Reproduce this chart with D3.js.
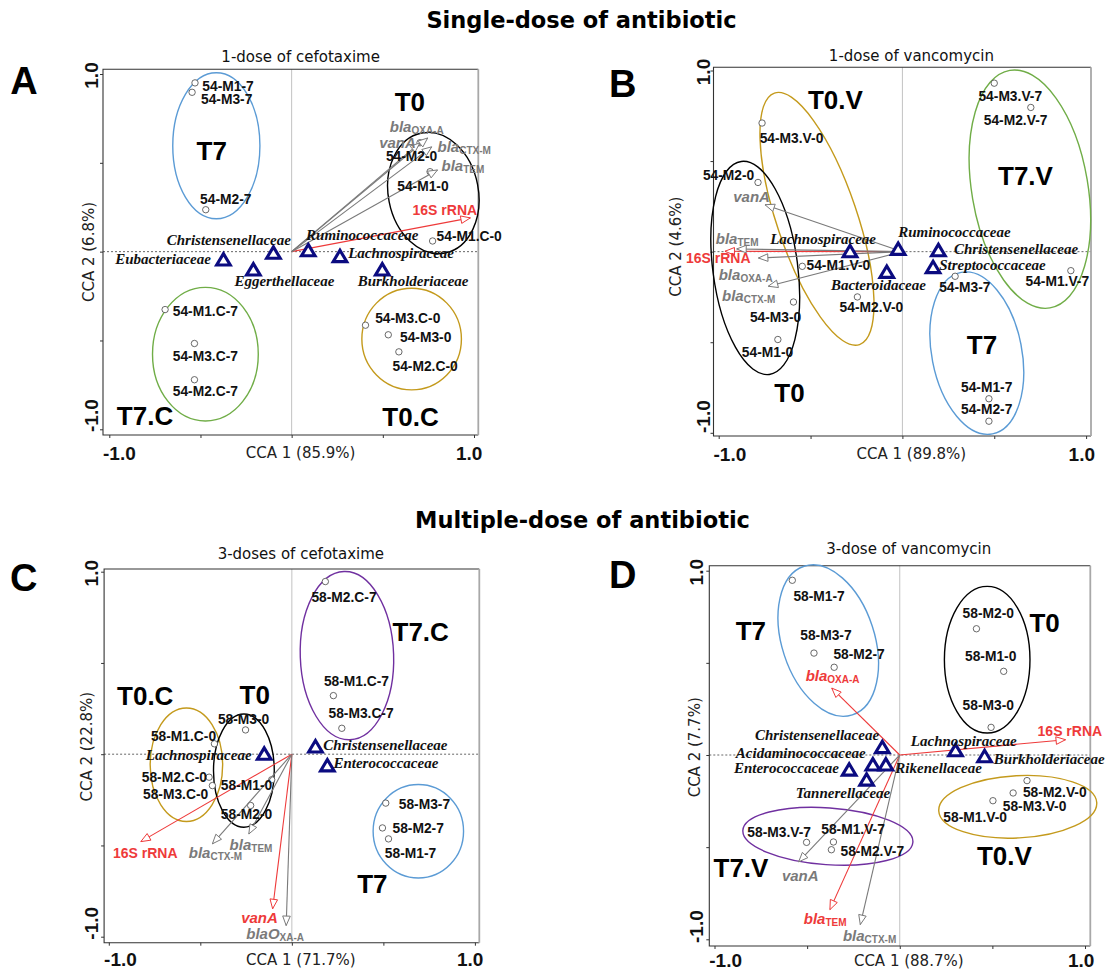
<!DOCTYPE html>
<html>
<head>
<meta charset="utf-8">
<script src="https://cdn.jsdelivr.net/npm/d3@7"></script>
<style>
  body { margin: 0; background: #fff; }
</style>
</head>
<body>
<div id="graph"></div>
<script>
// ---------- data (CCA scores) ----------
// samples: point (x, y) and where its label sits (lx, ly), all in CCA units
var samplesA = [
  {id: "54-M1-7", x: -0.53, y: 0.95, lx: -0.49, ly: 0.929},
  {id: "54-M3-7", x: -0.546, y: 0.897, lx: -0.497, ly: 0.854},
  {id: "54-M2-7", x: -0.471, y: 0.236, lx: -0.502, ly: 0.296},
  {id: "54-M2-0", x: 0.704, y: 0.613, lx: 0.517, ly: 0.536},
  {id: "54-M1-0", x: 0.759, y: 0.45, lx: 0.579, ly: 0.367},
  {id: "54-M1.C-0", x: 0.773, y: 0.06, lx: 0.795, ly: 0.086},
  {id: "54-M1.C-7", x: -0.694, y: -0.326, lx: -0.652, ly: -0.335},
  {id: "54-M3.C-7", x: -0.533, y: -0.517, lx: -0.652, ly: -0.588},
  {id: "54-M2.C-7", x: -0.533, y: -0.721, lx: -0.652, ly: -0.79},
  {id: "54-M3.C-0", x: 0.405, y: -0.414, lx: 0.458, ly: -0.378},
  {id: "54-M3-0", x: 0.53, y: -0.468, lx: 0.594, ly: -0.481},
  {id: "54-M2.C-0", x: 0.588, y: -0.564, lx: 0.553, ly: -0.648}
];
var familiesA = [
  {id: "Eubacteriaceae", x: -0.374, y: -0.045, lx: -0.968, ly: -0.041},
  {id: "Eggerthellaceae", x: -0.21, y: -0.101, lx: -0.314, ly: -0.167},
  {id: "Christensenellaceae", x: -0.1, y: -0.007, lx: -0.685, ly: 0.067},
  {id: "Ruminococcaceae", x: 0.091, y: 0.007, lx: 0.079, ly: 0.096},
  {id: "Lachnospiraceae", x: 0.265, y: -0.026, lx: 0.31, ly: -0.007},
  {id: "Burkholderiaceae", x: 0.497, y: -0.101, lx: 0.362, ly: -0.167}
];
var vectorsA = [
  {id: "16S rRNA", base: "16S rRNA", sub: "", x: 0.98, y: 0.19, lx: 0.663, ly: 0.236},
  {id: "blaOXA-A", base: "bla", sub: "OXA-A", x: 0.746, y: 0.64, lx: 0.538, ly: 0.706},
  {id: "vanA", base: "vanA", sub: "", x: 0.703, y: 0.612, lx: 0.48, ly: 0.616},
  {id: "blaCTX-M", base: "bla", sub: "CTX-M", x: 0.768, y: 0.59, lx: 0.80, ly: 0.592},
  {id: "blaTEM", base: "bla", sub: "TEM", x: 0.80, y: 0.46, lx: 0.822, ly: 0.489}
];
var groupsA = [
  {group: "T7", cx: -0.413, cy: 0.596, rx: 0.239, ry: 0.411, angle: 0, tx: -0.438, ty: 0.564},
  {group: "T0", cx: 0.777, cy: 0.33, rx: 0.247, ry: 0.344, angle: -11, tx: 0.648, ty: 0.84},
  {group: "T7.C", cx: -0.473, cy: -0.577, rx: 0.29, ry: 0.376, angle: 0, tx: -0.804, ty: -0.925},
  {group: "T0.C", cx: 0.658, cy: -0.492, rx: 0.273, ry: 0.286, angle: 0, tx: 0.652, ty: -0.931}
];

var samplesB = [
  {id: "54-M3.V-7", x: 0.5, y: 0.93, lx: 0.414, ly: 0.857},
  {id: "54-M2.V-7", x: 0.699, y: 0.796, lx: 0.443, ly: 0.722},
  {id: "54-M3.V-0", x: -0.764, y: 0.71, lx: -0.777, ly: 0.627},
  {id: "54-M2-0", x: -0.786, y: 0.382, lx: -1.086, ly: 0.419},
  {id: "54-M1.V-0", x: -0.545, y: -0.081, lx: -0.522, ly: -0.077},
  {id: "54-M1.V-7", x: 0.917, y: -0.105, lx: 0.67, ly: -0.164},
  {id: "54-M3-7", x: 0.287, y: -0.136, lx: 0.2, ly: -0.2},
  {id: "54-M2.V-0", x: -0.245, y: -0.25, lx: -0.342, ly: -0.311},
  {id: "54-M3-0", x: -0.593, y: -0.278, lx: -0.83, ly: -0.366},
  {id: "54-M1-0", x: -0.678, y: -0.485, lx: -0.874, ly: -0.559},
  {id: "54-M1-7", x: 0.471, y: -0.812, lx: 0.319, ly: -0.748},
  {id: "54-M2-7", x: 0.471, y: -0.936, lx: 0.319, ly: -0.871}
];
var familiesB = [
  {id: "Lachnospiraceae", x: -0.285, y: 0.002, lx: -0.72, ly: 0.07},
  {id: "Ruminococcaceae", x: -0.023, y: 0.015, lx: -0.023, ly: 0.107},
  {id: "Christensenellaceae", x: 0.196, y: 0.007, lx: 0.281, ly: 0.015},
  {id: "Streptococcaceae", x: 0.167, y: -0.086, lx: 0.2, ly: -0.072},
  {id: "Bacteroidaceae", x: -0.085, y: -0.112, lx: -0.389, ly: -0.186}
];
var vectorsB = [
  {id: "16S rRNA", base: "16S rRNA", sub: "", x: -0.966, y: 0.002, lx: -1.178, ly: -0.033},
  {id: "blaTEM", base: "bla", sub: "TEM", x: -0.902, y: 0.015, lx: -1.016, ly: 0.078},
  {id: "blaOXA-A", base: "bla", sub: "OXA-A", x: -0.784, y: -0.035, lx: -1.0, ly: -0.124},
  {id: "blaCTX-M", base: "bla", sub: "CTX-M", x: -0.73, y: -0.191, lx: -0.982, ly: -0.242},
  {id: "vanA", base: "vanA", sub: "", x: -0.748, y: 0.259, lx: -0.921, ly: 0.305}
];
var groupsB = [
  {group: "T0.V", cx: -0.465, cy: 0.181, rx: 0.218, ry: 0.733, angle: -18.7, tx: -0.365, ty: 0.838},
  {group: "T0", cx: -0.801, cy: -0.09, rx: 0.231, ry: 0.593, angle: -7.5, tx: -0.615, ty: -0.783},
  {group: "T7.V", cx: 0.694, cy: 0.345, rx: 0.316, ry: 0.665, angle: -9.6, tx: 0.67, ty: 0.419},
  {group: "T7", cx: 0.405, cy: -0.56, rx: 0.245, ry: 0.454, angle: -11, tx: 0.433, ty: -0.518}
];

var samplesC = [
  {id: "58-M2.C-7", x: 0.183, y: 0.946, lx: 0.107, ly: 0.86},
  {id: "58-M1.C-7", x: 0.227, y: 0.321, lx: 0.175, ly: 0.398},
  {id: "58-M3.C-7", x: 0.273, y: 0.142, lx: 0.2, ly: 0.221},
  {id: "58-M3-0", x: -0.253, y: 0.133, lx: -0.404, ly: 0.188},
  {id: "58-M1.C-0", x: -0.423, y: 0.057, lx: -0.77, ly: 0.099},
  {id: "58-M2.C-0", x: -0.452, y: -0.126, lx: -0.82, ly: -0.126},
  {id: "58-M3.C-0", x: -0.434, y: -0.172, lx: -0.813, ly: -0.221},
  {id: "58-M1-0", x: -0.11, y: -0.14, lx: -0.388, ly: -0.172},
  {id: "58-M2-0", x: -0.225, y: -0.281, lx: -0.388, ly: -0.332},
  {id: "58-M3-7", x: 0.513, y: -0.268, lx: 0.584, ly: -0.276},
  {id: "58-M2-7", x: 0.495, y: -0.404, lx: 0.55, ly: -0.409},
  {id: "58-M1-7", x: 0.528, y: -0.464, lx: 0.508, ly: -0.546}
];
var familiesC = [
  {id: "Lachnospiraceae", x: -0.151, y: 0.002, lx: -0.798, ly: -0.004},
  {id: "Christensenellaceae", x: 0.129, y: 0.042, lx: 0.172, ly: 0.051},
  {id: "Enterococcaceae", x: 0.194, y: -0.062, lx: 0.227, ly: -0.049}
];
var vectorsC = [
  {id: "16S rRNA", base: "16S rRNA", sub: "", x: -0.825, y: -0.479, lx: -0.977, ly: -0.542},
  {id: "blaCTX-M", base: "bla", sub: "CTX-M", x: -0.434, y: -0.491, lx: -0.563, ly: -0.537},
  {id: "blaTEM", base: "bla", sub: "TEM", x: -0.235, y: -0.437, lx: -0.34, ly: -0.491},
  {id: "vanA", base: "vanA", sub: "", x: -0.105, y: -0.847, lx: -0.277, ly: -0.89},
  {id: "blaOXA-A", base: "blaO", sub: "XA-A", x: -0.031, y: -0.939, lx: -0.249, ly: -0.982}
];
var groupsC = [
  {group: "T0.C", cx: -0.576, cy: -0.058, rx: 0.198, ry: 0.311, angle: 0, tx: -0.801, ty: 0.321},
  {group: "T0", cx: -0.262, cy: -0.09, rx: 0.166, ry: 0.31, angle: 0, tx: -0.203, ty: 0.327},
  {group: "T7.C", cx: 0.301, cy: 0.54, rx: 0.255, ry: 0.461, angle: -2, tx: 0.704, ty: 0.668},
  {group: "T7", cx: 0.691, cy: -0.422, rx: 0.247, ry: 0.256, angle: 0, tx: 0.44, ty: -0.711}
];

var samplesD = [
  {id: "58-M1-7", x: -0.58, y: 0.948, lx: -0.574, ly: 0.861},
  {id: "58-M3-7", x: -0.463, y: 0.553, lx: -0.537, ly: 0.649},
  {id: "58-M2-7", x: -0.354, y: 0.476, lx: -0.358, ly: 0.544},
  {id: "58-M2-0", x: 0.414, y: 0.685, lx: 0.339, ly: 0.77},
  {id: "58-M1-0", x: 0.561, y: 0.454, lx: 0.352, ly: 0.532},
  {id: "58-M3-0", x: 0.493, y: 0.15, lx: 0.339, ly: 0.268},
  {id: "58-M2.V-0", x: 0.687, y: -0.139, lx: 0.665, ly: -0.206},
  {id: "58-M3.V-0", x: 0.612, y: -0.206, lx: 0.556, ly: -0.278},
  {id: "58-M1.V-0", x: 0.503, y: -0.248, lx: 0.235, ly: -0.338},
  {id: "58-M3.V-7", x: -0.503, y: -0.474, lx: -0.823, ly: -0.42},
  {id: "58-M1.V-7", x: -0.358, y: -0.472, lx: -0.424, ly: -0.405},
  {id: "58-M2.V-7", x: -0.369, y: -0.514, lx: -0.32, ly: -0.526}
];
var familiesD = [
  {id: "Christensenellaceae", x: -0.094, y: 0.042, lx: -0.782, ly: 0.11},
  {id: "Acidaminococcaceae", x: -0.145, y: -0.052, lx: -0.885, ly: 0.011},
  {id: "Rikenellaceae", x: -0.075, y: -0.052, lx: -0.024, ly: -0.071},
  {id: "Enterococcaceae", x: -0.273, y: -0.08, lx: -0.895, ly: -0.071},
  {id: "Tannerellaceae", x: -0.179, y: -0.134, lx: -0.561, ly: -0.206},
  {id: "Lachnospiraceae", x: 0.301, y: 0.025, lx: 0.06, ly: 0.078},
  {id: "Burkholderiaceae", x: 0.458, y: -0.007, lx: 0.508, ly: -0.022}
];
var vectorsD = [
  {id: "16S rRNA", base: "16S rRNA", sub: "", x: 0.895, y: 0.083, lx: 0.744, ly: 0.128},
  {id: "blaOXA-A", base: "bla", sub: "OXA-A", x: -0.367, y: 0.363, lx: -0.508, ly: 0.432},
  {id: "blaTEM", base: "bla", sub: "TEM", x: -0.377, y: -0.839, lx: -0.518, ly: -0.884},
  {id: "blaCTX-M", base: "bla", sub: "CTX-M", x: -0.213, y: -0.92, lx: -0.307, ly: -0.978},
  {id: "vanA", base: "vanA", sub: "", x: -0.546, y: -0.58, lx: -0.636, ly: -0.653}
];
var groupsD = [
  {group: "T7", cx: -0.386, cy: 0.621, rx: 0.25, ry: 0.424, angle: -18, tx: -0.804, ty: 0.674},
  {group: "T0", cx: 0.472, cy: 0.517, rx: 0.231, ry: 0.398, angle: 0, tx: 0.782, ty: 0.716},
  {group: "T0.V", cx: 0.637, cy: -0.281, rx: 0.427, ry: 0.169, angle: -3, tx: 0.565, ty: -0.55},
  {group: "T7.V", cx: -0.388, cy: -0.441, rx: 0.46, ry: 0.154, angle: 4, tx: -0.857, ty: -0.613}
];

var tickValues = [-1, -0.5, 0, 0.5, 1];

// which vectors are drawn red, and ellipse colours per panel
var redA = ["16S rRNA"], redB = ["16S rRNA"], redC = ["16S rRNA", "vanA"], redD = ["16S rRNA", "blaOXA-A", "blaTEM"];
var blue = "#5b9bd5", green = "#70ad47", gold = "#c49a1c", purple = "#7030a0";
var coloursA = {"T7": blue, "T0": "#000", "T7.C": green, "T0.C": gold};
var coloursB = {"T7": blue, "T0": "#000", "T7.V": green, "T0.V": gold};
var coloursC = {"T7": blue, "T0": "#000", "T7.C": purple, "T0.C": gold};
var coloursD = {"T7": blue, "T0": "#000", "T7.V": purple, "T0.V": gold};

// layout of the four panels (pixel positions of the -1 / 1 ticks and the frame)
var panels = [
  {letter: "A", title: "1-dose of cefotaxime", xlab: "CCA 1 (85.9%)", ylab: "CCA 2 (6.8%)",
   samples: samplesA, families: familiesA, vectors: vectorsA, groups: groupsA, red: redA, colours: coloursA,
   xr: [109.3, 474], yr: [74, 429.3], box: [103, 69.3, 478.3, 435],
   ylabPos: [88.5, 252], yTickX: 91, letterPos: [24, 94], titleY: 61.5, bottomY: 453},
  {letter: "B", title: "1-dose of vancomycin", xlab: "CCA 1 (89.8%)", ylab: "CCA 2 (4.6%)",
   samples: samplesB, families: familiesB, vectors: vectorsB, groups: groupsB, red: redB, colours: coloursB,
   xr: [718.7, 1086.1], yr: [70.5, 432.8], box: [713.5, 67.3, 1091, 436],
   ylabPos: [676, 246.7], yTickX: 703, letterPos: [622.8, 96.5], titleY: 61, bottomY: 454},
  {letter: "C", title: "3-doses of cefotaxime", xlab: "CCA 1 (71.7%)", ylab: "CCA 2 (22.8%)",
   samples: samplesC, families: familiesC, vectors: vectorsC, groups: groupsC, red: redC, colours: coloursC,
   xr: [108.8, 474.9], yr: [571.7, 936.7], box: [104.1, 569, 479.3, 942.7],
   ylabPos: [87, 746.7], yTickX: 91.3, letterPos: [23.7, 591], titleY: 559, bottomY: 959.5},
  {letter: "D", title: "3-dose of vancomycin", xlab: "CCA 1 (88.7%)", ylab: "CCA 2 (7.7%)",
   samples: samplesD, families: familiesD, vectors: vectorsD, groups: groupsD, red: redD, colours: coloursD,
   xr: [714.5, 1085], yr: [570.7, 939.3], box: [709.3, 565.7, 1090.3, 946],
   ylabPos: [695, 747.3], yTickX: 696, letterPos: [622.8, 588], titleY: 554, bottomY: 960.5}
];

var sans = "'Liberation Sans', Arial, sans-serif";
var tahoma = "'DejaVu Sans', Verdana, sans-serif";
var serif = "'Liberation Serif', 'Times New Roman', serif";

var svg = d3.select("#graph").append("svg")
    .attr("width", 1107).attr("height", 972)
    .style("display", "block");

// section headings
svg.append("text").attr("x", 581.5).attr("y", 28).attr("text-anchor", "middle")
    .style("font-family", tahoma).style("font-weight", "bold").style("font-size", "22.5px")
    .text("Single-dose of antibiotic");
svg.append("text").attr("x", 582.5).attr("y", 528).attr("text-anchor", "middle")
    .style("font-family", tahoma).style("font-weight", "bold").style("font-size", "22.5px")
    .text("Multiple-dose of antibiotic");

function headPath(x1, y1, x2, y2) {
  var dx = x2 - x1, dy = y2 - y1, L = Math.sqrt(dx * dx + dy * dy);
  var ux = dx / L, uy = dy / L, bx = x2 - ux * 9.5, by = y2 - uy * 9.5;
  return "M" + x2 + "," + y2 + "L" + (bx - uy * 3.8) + "," + (by + ux * 3.8) +
         "L" + (bx + uy * 3.8) + "," + (by - ux * 3.8) + "Z";
}

panels.forEach(function(p) {
  var x = d3.scaleLinear().domain([-1, 1]).range(p.xr);
  var y = d3.scaleLinear().domain([1, -1]).range(p.yr);
  var b = p.box;
  var ux = x(1) - x(0), uy = y(0) - y(1);
  var g = svg.append("g");

  // zero lines
  g.append("line").attr("x1", x(0)).attr("x2", x(0)).attr("y1", b[1]).attr("y2", b[3])
      .attr("stroke", "#c2c2c2").attr("stroke-width", 1);
  g.append("line").attr("x1", b[0]).attr("x2", b[2]).attr("y1", y(0)).attr("y2", y(0))
      .attr("stroke", "#555").attr("stroke-width", 0.9).attr("stroke-dasharray", "2,2");

  // frame
  g.append("path").attr("d", "M" + b[2] + "," + b[1] + "H" + b[0] + "V" + b[3] + "H" + b[2])
      .attr("fill", "none").attr("stroke", "#333").attr("stroke-width", 1.1);
  g.append("line").attr("x1", b[2]).attr("x2", b[2]).attr("y1", b[1]).attr("y2", b[3])
      .attr("stroke", "#a8a8a8").attr("stroke-width", 1.8);

  // axes (ticks only; labels drawn separately)
  var xAxis = d3.axisBottom(x).tickValues(tickValues).tickSize(3).tickFormat("");
  var yAxis = d3.axisLeft(y).tickValues(tickValues).tickSize(3).tickFormat("");
  var gx = g.append("g").attr("transform", "translate(0," + b[3] + ")").call(xAxis);
  var gy = g.append("g").attr("transform", "translate(" + b[0] + ",0)").call(yAxis);
  gx.select(".domain").remove();
  gy.select(".domain").remove();
  g.selectAll(".tick line").attr("stroke", "#333");

  var tickFont = function(t) {
    t.style("font-family", sans).style("font-weight", "bold").style("font-size", "19px").attr("fill", "#111");
  };
  g.append("text").attr("x", b[0]).attr("y", p.bottomY).attr("dominant-baseline", "central")
      .call(tickFont).text("-1.0");
  g.append("text").attr("x", b[2] + 4).attr("y", p.bottomY).attr("dominant-baseline", "central")
      .attr("text-anchor", "end").call(tickFont).text("1.0");
  g.append("text").attr("transform", "translate(" + p.yTickX + "," + (y(1) + 1.5) + ") rotate(-90)")
      .attr("text-anchor", "middle").attr("dominant-baseline", "central").call(tickFont).text("1.0");
  g.append("text").attr("transform", "translate(" + p.yTickX + "," + (b[3] - 3) + ") rotate(-90)")
      .attr("text-anchor", "start").attr("dominant-baseline", "central").call(tickFont).text("-1.0");

  // axis titles and panel title
  g.append("text").attr("x", x(0) + 9).attr("y", p.bottomY).attr("dominant-baseline", "central")
      .attr("text-anchor", "middle").style("font-family", tahoma).style("font-size", "15px").attr("fill", "#222")
      .text(p.xlab);
  g.append("text").attr("transform", "translate(" + p.ylabPos[0] + "," + p.ylabPos[1] + ") rotate(-90)")
      .attr("text-anchor", "middle").attr("dominant-baseline", "central")
      .style("font-family", tahoma).style("font-size", "15px").attr("fill", "#222")
      .text(p.ylab);
  g.append("text").attr("x", x(0) + 9).attr("y", p.titleY).attr("text-anchor", "middle")
      .style("font-family", tahoma).style("font-size", "15px").attr("fill", "#111")
      .text(p.title);
  g.append("text").attr("x", p.letterPos[0]).attr("y", p.letterPos[1]).attr("text-anchor", "middle")
      .style("font-family", sans).style("font-weight", "bold").style("font-size", "38px")
      .text(p.letter);

  // group ellipses
  g.selectAll(".ell").data(p.groups).enter().append("ellipse")
      .attr("transform", function(d) { return "translate(" + x(d.cx) + "," + y(d.cy) + ") rotate(" + d.angle + ")"; })
      .attr("rx", function(d) { return d.rx * ux; })
      .attr("ry", function(d) { return d.ry * uy; })
      .attr("fill", "none")
      .attr("stroke", function(d) { return p.colours[d.group]; })
      .attr("stroke-width", 1.4);

  // sample points
  g.selectAll(".pt").data(p.samples).enter().append("circle")
      .attr("cx", function(d) { return x(d.x); })
      .attr("cy", function(d) { return y(d.y); })
      .attr("r", 3.2)
      .attr("fill", "#fff").attr("stroke", "#444").attr("stroke-width", 0.8);

  // environmental vectors
  var isRed = function(d) { return p.red.indexOf(d.id) >= 0; };
  var vcol = function(d) { return isRed(d) ? "#ee3a3a" : "#7a7a7a"; };
  g.selectAll(".vec").data(p.vectors).enter().append("line")
      .attr("x1", x(0)).attr("y1", y(0))
      .attr("x2", function(d) { return x(d.x); })
      .attr("y2", function(d) { return y(d.y); })
      .attr("stroke", vcol).attr("stroke-width", 1.1);
  g.selectAll(".head").data(p.vectors).enter().append("path")
      .attr("d", function(d) { return headPath(x(0), y(0), x(d.x), y(d.y)); })
      .attr("fill", "#fff").attr("stroke", vcol).attr("stroke-width", 1);

  // family triangles
  g.selectAll(".fam").data(p.families).enter().append("path")
      .attr("transform", function(d) { return "translate(" + x(d.x) + "," + y(d.y) + ")"; })
      .attr("d", "M0,-6L6.8,5.4L-6.8,5.4Z")
      .attr("fill", "#fff").attr("stroke", "#0b0b80").attr("stroke-width", 3.1)
      .attr("stroke-linejoin", "miter");

  // labels
  g.selectAll(".slab").data(p.samples).enter().append("text")
      .attr("x", function(d) { return x(d.lx); })
      .attr("y", function(d) { return y(d.ly); })
      .attr("dominant-baseline", "central")
      .style("font-family", sans).style("font-weight", "bold").style("font-size", "13.8px")
      .attr("fill", "#111")
      .text(function(d) { return d.id; });

  g.selectAll(".flab").data(p.families).enter().append("text")
      .attr("x", function(d) { return x(d.lx); })
      .attr("y", function(d) { return y(d.ly); })
      .attr("dominant-baseline", "central")
      .style("font-family", serif).style("font-weight", "bold").style("font-style", "italic")
      .style("font-size", "15px").attr("fill", "#111")
      .text(function(d) { return d.id; });

  var vl = g.selectAll(".vlab").data(p.vectors).enter().append("text")
      .attr("x", function(d) { return x(d.lx); })
      .attr("y", function(d) { return y(d.ly); })
      .attr("dominant-baseline", "central")
      .style("font-family", sans).style("font-weight", "bold")
      .attr("fill", vcol);
  vl.append("tspan")
      .style("font-size", function(d) { return d.sub || d.id === "vanA" ? "15px" : "14px"; })
      .style("font-style", function(d) { return d.id === "16S rRNA" ? "normal" : "italic"; })
      .text(function(d) { return d.base; });
  vl.filter(function(d) { return d.sub; }).append("tspan")
      .attr("dy", 4).style("font-size", "10px")
      .text(function(d) { return d.sub; });

  g.selectAll(".glab").data(p.groups).enter().append("text")
      .attr("x", function(d) { return x(d.tx); })
      .attr("y", function(d) { return y(d.ty); })
      .attr("text-anchor", "middle").attr("dominant-baseline", "central")
      .style("font-family", sans).style("font-weight", "bold").style("font-size", "26px")
      .attr("fill", "#000")
      .text(function(d) { return d.group; });
});
</script>
</body>
</html>
